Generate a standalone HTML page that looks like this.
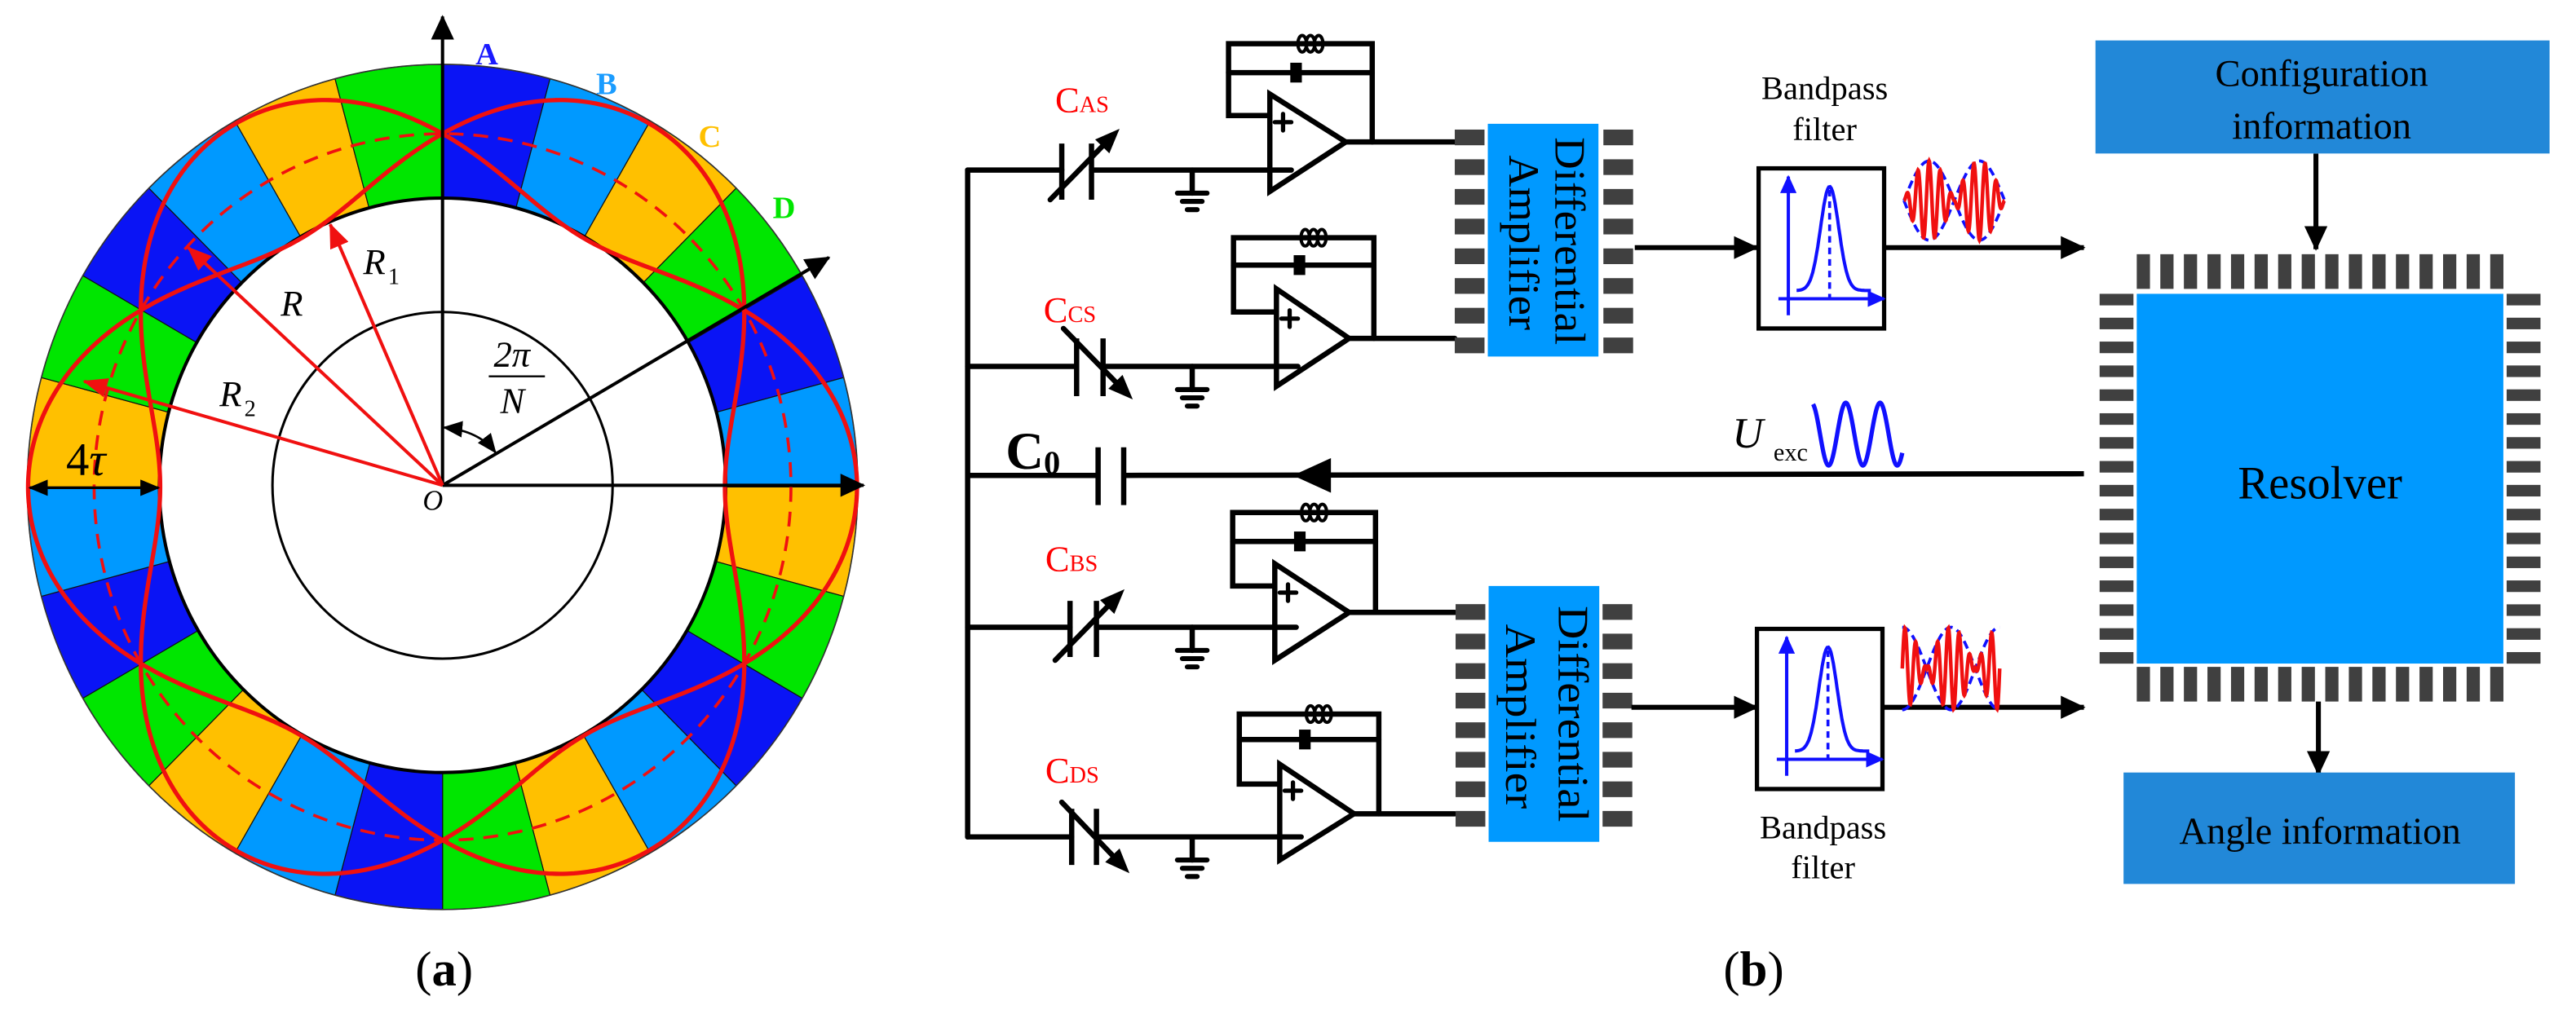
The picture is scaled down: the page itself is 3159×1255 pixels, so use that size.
<!DOCTYPE html>
<html><head><meta charset="utf-8">
<style>
html,body{margin:0;padding:0;background:#fff;}
svg{display:block;font-family:"Liberation Serif","DejaVu Serif",serif;}
svg text{font-family:"Liberation Serif","DejaVu Serif",serif;}
</style></head>
<body>
<svg id="s" xmlns="http://www.w3.org/2000/svg" width="3159" height="1255" viewBox="0 0 1560 619.75" preserveAspectRatio="none">
<defs>
<marker id="ab" markerUnits="userSpaceOnUse" markerWidth="16" markerHeight="14" refX="14" refY="7" orient="auto"><path d="M0,0 L15,7 L0,14 Z" fill="#000"/></marker>
<marker id="abs" markerUnits="userSpaceOnUse" markerWidth="12" markerHeight="10" refX="11" refY="5" orient="auto-start-reverse"><path d="M0,0 L12,5 L0,10 Z" fill="#000"/></marker>
<marker id="ar" markerUnits="userSpaceOnUse" markerWidth="16" markerHeight="12" refX="14" refY="6" orient="auto"><path d="M0,0 L15,6 L0,12 Z" fill="#f01010"/></marker>
<marker id="abl" markerUnits="userSpaceOnUse" markerWidth="12" markerHeight="10" refX="10" refY="5" orient="auto"><path d="M0,0 L11,5 L0,10 Z" fill="#1010ff"/></marker>
</defs>
<g id="ring"></g>
<g stroke="#000" stroke-width="2" fill="none">
<line x1="268" y1="294" x2="268" y2="10" marker-end="url(#ab)"/>
<line x1="268" y1="294" x2="523" y2="294" marker-end="url(#ab)"/>
<line x1="268" y1="294" x2="502" y2="156" marker-end="url(#ab)"/>
<path d="M269,259 Q290,261 300,274" stroke-width="1.3" marker-start="url(#abs)" marker-end="url(#abs)"/>
<line x1="18" y1="295.5" x2="96" y2="295.5" stroke-width="1.6" marker-start="url(#abs)" marker-end="url(#abs)"/>
<line x1="296" y1="228" x2="330" y2="228" stroke-width="1.2"/>
</g>
<g stroke="#f01010" stroke-width="2" fill="none">
<line x1="268" y1="294" x2="200" y2="136" marker-end="url(#ar)"/>
<line x1="268" y1="294" x2="114" y2="150" marker-end="url(#ar)"/>
<line x1="268" y1="294" x2="51" y2="231" marker-end="url(#ar)"/>
</g>
<g font-size="22" font-style="italic">
<text x="220" y="166">R</text><text x="235" y="172" font-size="14" font-style="normal">1</text>
<text x="170" y="191">R</text>
<text x="133" y="246">R</text><text x="148" y="252" font-size="14" font-style="normal">2</text>
<text x="299" y="222">2π</text>
<text x="303" y="250">N</text>
<text x="256" y="309" font-size="17">O</text>
</g>
<text x="40" y="288" font-size="28">4<tspan font-style="italic">τ</tspan></text>
<g font-weight="bold" font-size="19">
<text x="288" y="39" fill="#1a1aff">A</text>
<text x="361" y="57" fill="#1a9cff">B</text>
<text x="423" y="89" fill="#ffc000">C</text>
<text x="468" y="132" fill="#00e600">D</text>
</g>
<text x="269" y="597" font-size="30" text-anchor="middle">(<tspan font-weight="bold">a</tspan>)</text>

<g id="circ" stroke="#000" stroke-width="3.2" fill="none" stroke-linecap="round"></g>
<g stroke="#000" stroke-width="3.2">
<line x1="586" y1="288" x2="665" y2="288"/>
<line x1="680.5" y1="288" x2="1262" y2="287"/>
<line x1="665" y1="271" x2="665" y2="306"/>
<line x1="680.5" y1="271" x2="680.5" y2="306"/>
</g>
<path d="M783,288 L806,277.5 L806,298.5 Z" fill="#000"/>
<text x="609" y="284" font-size="32" font-weight="bold">C<tspan font-size="20" dy="3">0</tspan></text>
<g fill="#f00" font-size="22">
<text x="639" y="68">C<tspan font-size="14">AS</tspan></text>
<text x="632" y="195">C<tspan font-size="14">CS</tspan></text>
<text x="633" y="346">C<tspan font-size="14">BS</tspan></text>
<text x="633" y="474">C<tspan font-size="14">DS</tspan></text>
</g>
<rect x="901" y="75" width="67" height="141" fill="#0099ff"/>
<rect x="901.5" y="355" width="67" height="155" fill="#0099ff"/>
<g id="dpins" fill="#404040"></g>
<g font-size="26">
<text transform="translate(942,83) rotate(90)" textLength="126" lengthAdjust="spacingAndGlyphs">Differential</text>
<text transform="translate(914,94) rotate(90)" textLength="106" lengthAdjust="spacingAndGlyphs">Amplifier</text>
<text transform="translate(944,367) rotate(90)" textLength="131" lengthAdjust="spacingAndGlyphs">Differential</text>
<text transform="translate(912,378) rotate(90)" textLength="112" lengthAdjust="spacingAndGlyphs">Amplifier</text>
</g>
<g stroke="#000" stroke-width="3">
<line x1="990" y1="150" x2="1064" y2="150" marker-end="url(#ab)"/>
<line x1="1141" y1="150" x2="1262" y2="150" marker-end="url(#ab)"/>
<line x1="988" y1="428.5" x2="1064" y2="428.5" marker-end="url(#ab)"/>
<line x1="1141" y1="428.5" x2="1262" y2="428.5" marker-end="url(#ab)"/>
<line x1="1402.5" y1="93" x2="1402.5" y2="151" marker-end="url(#ab)"/>
<line x1="1404" y1="425" x2="1404" y2="469" marker-end="url(#ab)"/>
</g>
<g id="filt"></g>
<g font-size="20" text-anchor="middle">
<text x="1105" y="60">Bandpass</text><text x="1105" y="85">filter</text>
<text x="1104" y="508">Bandpass</text><text x="1104" y="532">filter</text>
</g>
<g id="waves" fill="none"></g>
<text x="1049" y="271" font-size="26" font-style="italic">U</text>
<text x="1074" y="279" font-size="15">exc</text>
<rect x="1269" y="24.5" width="275" height="68.5" fill="#2288d8"/>
<g font-size="23" text-anchor="middle">
<text x="1406" y="52">Configuration</text>
<text x="1406" y="84">information</text>
</g>
<rect x="1294" y="178" width="222" height="224" fill="#0099ff"/>
<g id="rpins" fill="#404040"></g>
<text x="1405" y="302" font-size="28" text-anchor="middle">Resolver</text>
<rect x="1286" y="468" width="237" height="67.5" fill="#2288d8"/>
<text x="1405" y="511" font-size="23" text-anchor="middle">Angle information</text>
<text x="1062" y="597" font-size="30" text-anchor="middle">(<tspan font-weight="bold">b</tspan>)</text>
</svg>
<script>
function add(gid,html){document.getElementById(gid).insertAdjacentHTML('beforeend',html);}
(function(){
 const cx=268,cy=295,rx=251.5,ry=256;
 const cols=['#0a14f5','#0099ff','#ffc000','#00e600'];
 let h='';
 const P=(a,sx,sy)=>{const r=a*Math.PI/180;return [(cx+sx*Math.sin(r)).toFixed(2),(cy-sy*Math.cos(r)).toFixed(2)];};
 for(let i=0;i<24;i++){
  const p0=P(i*15,rx,ry),p1=P((i+1)*15,rx,ry);
  h+=`<path d="M${cx},${cy} L${p0} A${rx},${ry} 0 0 1 ${p1} Z" fill="${cols[i%4]}" stroke="#111" stroke-width="0.6"/>`;
 }
 h+=`<ellipse cx="${cx}" cy="${cy}" rx="${rx}" ry="${ry}" fill="none" stroke="#333" stroke-width="0.8"/>`;
 h+=`<ellipse cx="268" cy="294" rx="171.5" ry="174" fill="#fff" stroke="#000" stroke-width="2"/>`;
 h+=`<ellipse cx="268" cy="294" rx="103" ry="105" fill="none" stroke="#000" stroke-width="1.5"/>`;
 h+=`<ellipse cx="268" cy="295" rx="211" ry="214" fill="none" stroke="#f01010" stroke-width="1.8" stroke-dasharray="9,6"/>`;
 for(const sg of [1,-1]){
  let d='';
  for(let k=0;k<=720;k++){
   const t=k/720*2*Math.PI;
   const m=sg*40*Math.cos(3*t);
   const x=268+(211+m)*Math.cos(t), y=295-(214+m)*Math.sin(t);
   d+=(k?'L':'M')+x.toFixed(2)+','+y.toFixed(2);
  }
  h+=`<path d="${d}Z" fill="none" stroke="#f01010" stroke-width="2.6"/>`;
 }
 add('ring',h);
})();
(function(){
 let h='';
 h+=`<path d="M586,103 L586,507"/>`;
 const ops=[
  {L:769,T:57,B:116,X:815,Y:86,fl:744,ft:26.5,fc:44,fr:831,fd:70,out:881,w:103,c1:643,c2:661,cT:87,cB:121,a:[636,121,678,78]},
  {L:773,T:175,B:234,X:817,Y:205,fl:747,ft:144,fc:160.6,fr:832,fd:189,out:881,w:222,c1:652,c2:668,cT:205,cB:240,a:[644,199,686,242]},
  {L:772,T:341.5,B:400,X:817,Y:371,fl:746.5,ft:310.5,fc:328,fr:833,fd:355,out:881,w:380,c1:648,c2:664,cT:364,cB:398,a:[639,400,681,357]},
  {L:775,T:463,B:521,X:820,Y:493,fl:750.5,ft:432.6,fc:448,fr:835,fd:475,out:881,w:507,c1:649,c2:664,cT:490,cB:524,a:[643,486,684,529]}];
 for(const o of ops){
  h+=`<path d="M${o.L},${o.T} L${o.X},${o.Y} L${o.L},${o.B} Z"/>`;
  h+=`<path d="M${o.L},${o.fd} L${o.fl},${o.fd} L${o.fl},${o.ft} L${o.fr},${o.ft} L${o.fr},${o.Y}"/>`;
  h+=`<path d="M${o.fl},${o.fc} L${o.fr},${o.fc}"/>`;
  const sq=o.fl+(o.fr-o.fl)*0.47;
  h+=`<rect x="${sq-3.5}" y="${o.fc-6}" width="7" height="12" fill="#000" stroke="none"/>`;
  const ix=o.fl+(o.fr-o.fl)*0.57;
  for(let j=-1;j<=1;j++) h+=`<ellipse cx="${ix+j*5}" cy="${o.ft}" rx="2.6" ry="5" stroke-width="2"/>`;
  h+=`<path d="M${o.X},${o.Y} L${o.out},${o.Y}"/>`;
  h+=`<path d="M${o.L+3},${o.fd+4} L${o.L+13},${o.fd+4} M${o.L+8},${o.fd-1} L${o.L+8},${o.fd+9}" stroke-width="2.6"/>`;
  h+=`<path d="M586,${o.w} L${o.c1},${o.w} M${o.c2},${o.w} L${o.L+13},${o.w}"/>`;
  h+=`<path d="M${o.c1},${o.cT} L${o.c1},${o.cB} M${o.c2},${o.cT} L${o.c2},${o.cB}" stroke-linecap="butt"/>`;
  const [x1,y1,x2,y2]=o.a; const ang=Math.atan2(y2-y1,x2-x1);
  const bx=x2-15*Math.cos(ang),by=y2-15*Math.sin(ang);
  h+=`<path d="M${x1},${y1} L${bx.toFixed(1)},${by.toFixed(1)}"/>`;
  const px=-Math.sin(ang)*6,py=Math.cos(ang)*6;
  h+=`<path d="M${x2},${y2} L${(bx+px).toFixed(1)},${(by+py).toFixed(1)} L${(bx-px).toFixed(1)},${(by-py).toFixed(1)} Z" fill="#000" stroke="none"/>`;
  const gy=o.w+14;
  h+=`<path d="M722,${o.w} L722,${gy}"/>`;
  h+=`<path d="M713,${gy} L731,${gy} M716,${gy+5} L728,${gy+5} M719,${gy+10} L725,${gy+10}" stroke-width="3"/>`;
 }
 add('circ',h);
 let p='';
 const tops1=[78.5,96.5,114.5,132.5,150.5,168.5,186.5,204.5];
 for(const t of tops1){p+=`<rect x="881" y="${t}" width="18" height="9.5"/><rect x="971" y="${t}" width="18" height="9.5"/>`;}
 for(let i=0;i<8;i++){const t=366+i*17.9;p+=`<rect x="881.5" y="${t}" width="18" height="9.5"/><rect x="970.5" y="${t}" width="18" height="9.5"/>`;}
 add('dpins',p);
 let r='';
 for(let i=0;i<16;i++){const x=1294+i*14.27;r+=`<rect x="${x.toFixed(2)}" y="154" width="8" height="21"/><rect x="${x.toFixed(2)}" y="404" width="8" height="21"/>`;}
 for(let i=0;i<16;i++){const y=178+i*14.47;r+=`<rect x="1271.5" y="${y.toFixed(2)}" width="20.5" height="7"/><rect x="1518" y="${y.toFixed(2)}" width="20.5" height="7"/>`;}
 add('rpins',r);
 let f='';
 for(const [bx,by] of [[1065,102],[1064,381]]){
  f+=`<rect x="${bx}" y="${by}" width="76" height="97" fill="#fff" stroke="#000" stroke-width="2.6"/>`;
  const ax=bx+18, yb=by+79;
  f+=`<line x1="${ax}" y1="${by+89}" x2="${ax}" y2="${by+5}" stroke="#1010ff" stroke-width="2" marker-end="url(#abl)"/>`;
  f+=`<line x1="${bx+12}" y1="${yb}" x2="${bx+76}" y2="${yb}" stroke="#1010ff" stroke-width="2" marker-end="url(#abl)"/>`;
  let d='';
  for(let k=0;k<=60;k++){const x=bx+23+k*0.75;const u=(x-(bx+43))/5.5;const y=yb-5-63*Math.exp(-u*u/2);d+=(k?'L':'M')+x.toFixed(1)+','+y.toFixed(1);}
  f+=`<path d="${d}" fill="none" stroke="#1010ff" stroke-width="2"/>`;
  f+=`<line x1="${bx+43}" y1="${yb-66}" x2="${bx+43}" y2="${yb}" stroke="#1010ff" stroke-width="1.8" stroke-dasharray="4,3"/>`;
 }
 add('filt',f);
 let w='';
 function mod(x0,x1,yc,A,env){
  let up='',dn='',red='';
  for(let k=0;k<=300;k++){const t=k/300;const x=x0+(x1-x0)*t;const e=A*env(t);
   up+=(k?'L':'M')+x.toFixed(2)+','+(yc-e).toFixed(2);dn+=(k?'L':'M')+x.toFixed(2)+','+(yc+e).toFixed(2);
   red+=(k?'L':'M')+x.toFixed(2)+','+(yc-e*Math.sin(2*Math.PI*9*t)).toFixed(2);}
  return `<path d="${up}" stroke="#1010ff" stroke-width="1.8" stroke-dasharray="5,3"/><path d="${dn}" stroke="#1010ff" stroke-width="1.8" stroke-dasharray="5,3"/><path d="${red}" stroke="#f01010" stroke-width="2.2"/>`;
 }
 w+=mod(1153,1214,121.5,24,t=>Math.abs(Math.sin(2*Math.PI*t)));
 w+=mod(1152,1211,405,25,t=>Math.abs(Math.cos(2*Math.PI*t)));
 let s='';
 for(let k=0;k<=200;k++){const t=k/200;const x=1098+54*t;const y=263-19*Math.cos(2*Math.PI*2.6*t+0.3);s+=(k?'L':'M')+x.toFixed(2)+','+y.toFixed(2);}
 w+=`<path d="${s}" stroke="#1010ff" stroke-width="2.6"/>`;
 add('waves',w);
})();
</script>
</body></html>
